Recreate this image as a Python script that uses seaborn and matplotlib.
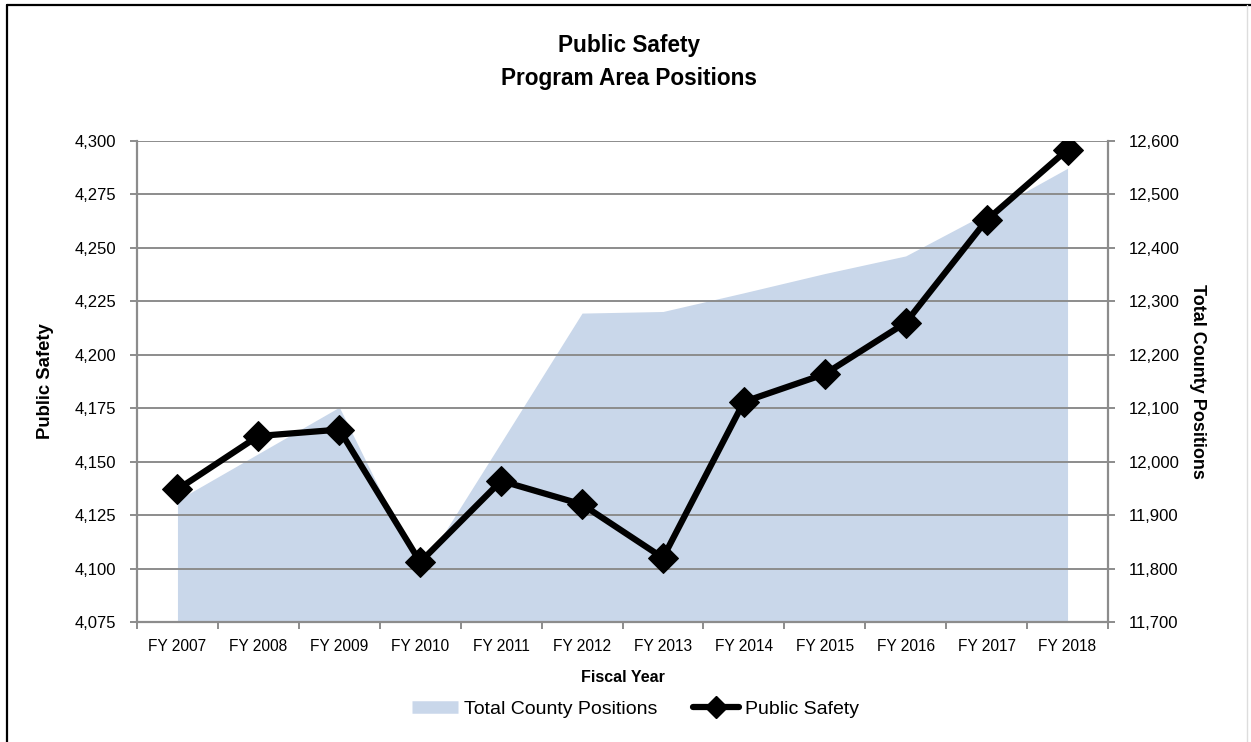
import numpy as np
import pandas as pd
import seaborn as sns
import matplotlib.pyplot as plt
from matplotlib.lines import Line2D
from matplotlib.ticker import FuncFormatter, FixedLocator

# Chart data
years = ['FY 2007', 'FY 2008', 'FY 2009', 'FY 2010', 'FY 2011', 'FY 2012',
         'FY 2013', 'FY 2014', 'FY 2015', 'FY 2016', 'FY 2017', 'FY 2018']
public_safety = [4137, 4162, 4165, 4103, 4141, 4130, 4105, 4178, 4191, 4215, 4263, 4296]
total_county = [11928, 12015, 12102, 11795, 12036, 12278, 12281, 12316, 12352, 12385, 12465, 12549]
left_ticks = [4075, 4100, 4125, 4150, 4175, 4200, 4225, 4250, 4275, 4300]
right_ticks = [11700, 11800, 11900, 12000, 12100, 12200, 12300, 12400, 12500, 12600]

sns.set_theme(style='white')
plt.rcParams['font.family'] = ['Liberation Sans', 'DejaVu Sans']
plt.rcParams['text.color'] = 'black'
plt.rcParams['axes.labelcolor'] = 'black'
plt.rcParams['xtick.color'] = 'black'
plt.rcParams['ytick.color'] = 'black'

AREA = '#c9d7ea'
GRID = '#8c8c8c'

df = pd.DataFrame({'year': years, 'public_safety': public_safety, 'total_county': total_county})
xpos = np.arange(len(years))

fig = plt.figure(figsize=(12.51, 7.42), dpi=100)
ax = fig.add_axes([137 / 1251, 1 - 622 / 742, 971 / 1251, 481 / 742])
ax2 = ax.twinx()
ax.set_zorder(ax2.get_zorder() + 1)
ax.patch.set_visible(False)

# area series on the right axis
ax2.fill_between(xpos, df['total_county'], right_ticks[0], color=AREA, lw=0)
ax2.set_ylim(right_ticks[0], right_ticks[-1])

# line series on the left axis
sns.lineplot(data=df, x='year', y='public_safety', ax=ax, color='black', lw=4.5,
             marker='D', markersize=15, markeredgecolor='black', sort=False)
ax.set_ylim(left_ticks[0], left_ticks[-1])
ax.set_xlim(-0.5, len(years) - 0.5)

# grid and spines
ax.set_axisbelow(True)
ax.yaxis.grid(True, color=GRID, lw=1.4)
ax.xaxis.grid(False)
for a in (ax, ax2):
    for s in a.spines.values():
        s.set_visible(False)
for s in (ax.spines['left'], ax.spines['bottom'], ax2.spines['right']):
    s.set_visible(True)
    s.set_color(GRID)
    s.set_linewidth(1.6)

# ticks
ax.set_xticks(xpos)
ax.set_xticklabels(years, fontsize=11.2)
ax.xaxis.set_minor_locator(FixedLocator(np.arange(-0.5, len(years), 1)))
ax.tick_params(axis='x', which='major', length=0, pad=12)
ax.tick_params(axis='x', which='minor', length=5, width=1.4, color=GRID, bottom=True)
ax.set_yticks(left_ticks)
ax2.set_yticks(right_ticks)
fmt = FuncFormatter(lambda v, p: f'{v:,.0f}')
ax.yaxis.set_major_formatter(fmt)
ax2.yaxis.set_major_formatter(fmt)
ax.tick_params(axis='y', length=5, width=1.4, color=GRID, labelsize=12, pad=10, left=True)
ax2.tick_params(axis='y', length=5, width=1.4, color=GRID, labelsize=12, pad=10, right=True)

# axis labels
ax.set_xlabel('Fiscal Year', fontsize=11.5, fontweight='bold')
ax.xaxis.set_label_coords(0.5, -0.1)
ax.set_ylabel('Public Safety', fontsize=13.3, fontweight='bold')
ax.yaxis.set_label_coords(-0.085, 0.5)
ax2.set_ylabel('Total County Positions', fontsize=13, fontweight='bold',
               rotation=270, va='center')
ax2.yaxis.set_label_coords(1.092, 0.5)

fig.text(0.503, 1 - 62 / 742, 'Public Safety\nProgram Area Positions', ha='center', va='center',
         fontsize=16.3, fontweight='bold', linespacing=1.6)

# legend below the plot
handles = [Line2D([], [], color=AREA, lw=9, solid_capstyle='butt'),
           Line2D([], [], color='black', lw=4.5, marker='D', markersize=11)]
fig.legend(handles, ['Total County Positions', 'Public Safety'], loc='center',
           bbox_to_anchor=(0.508, 1 - 709 / 742), ncol=2, frameon=False,
           handlelength=2.4, columnspacing=1.8, handletextpad=0.3,
           prop={'size': 14})

# page border seen at left/top of the reference
fig.add_artist(Line2D([7 / 1251, 7 / 1251], [0, 1 - 5 / 742], color='black', lw=1.6))
fig.add_artist(Line2D([7 / 1251, 1], [1 - 5 / 742, 1 - 5 / 742], color='black', lw=1.6))
fig.add_artist(Line2D([1247 / 1251, 1247 / 1251], [0, 1 - 5 / 742], color='#dddddd', lw=1))

fig.savefig('out.png', dpi=100)
